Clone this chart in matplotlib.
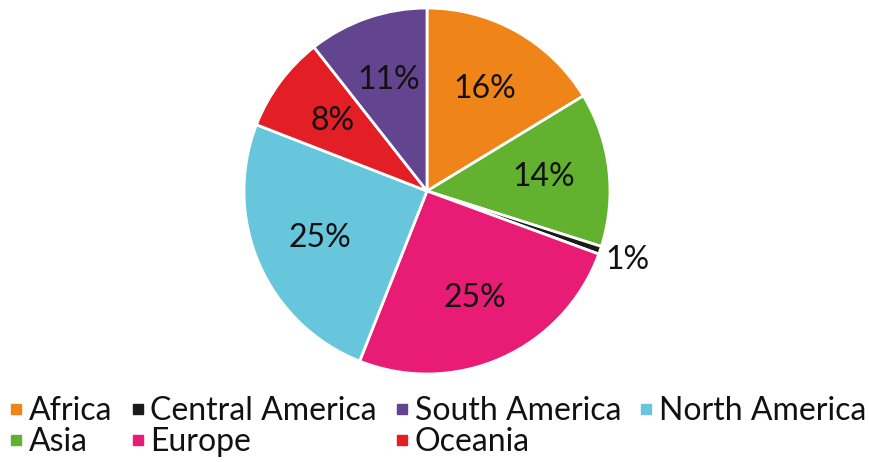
import matplotlib.pyplot as plt
from matplotlib.lines import Line2D

plt.rcParams['font.family'] = ['Lato', 'DejaVu Sans']

# share of total, clockwise from 12 o'clock
regions = ["Africa", "Asia", "Central America", "Europe", "North America", "Oceania", "South America"]
shares = [16.3, 13.6, 0.7, 25.4, 24.9, 8.5, 10.6]
colors = ["#EF8518", "#62B22F", "#1A1A1A", "#E81C75", "#67C6DC", "#E31E24", "#63448F"]

legend_order = ["Africa", "Asia", "Central America", "Europe", "South America", "Oceania", "North America"]

fig = plt.figure(figsize=(8.7, 4.62), dpi=100)
W, H = 870, 462
cx, cy, r = 427, 191, 183
ax = fig.add_axes([(cx - r) / W, (H - cy - r) / H, 2 * r / W, 2 * r / H])

wedges, texts, autotexts = ax.pie(
    shares, colors=colors, startangle=90, counterclock=False,
    autopct="%1.0f%%", pctdistance=0.64,
    wedgeprops=dict(edgecolor="white", linewidth=2),
    textprops=dict(fontsize=23, color="#111111"),
)
# the thin slice gets its label outside
small = regions.index("Central America")
x, y = autotexts[small].get_position()
autotexts[small].set_position((x / 0.64 * 1.16, y / 0.64 * 1.16))

ax.set_xlim(-1, 1)
ax.set_ylim(-1, 1)
ax.set_aspect("equal")

handles = [Line2D([], [], marker="s", linestyle="none", markersize=7.5,
                  color=colors[regions.index(n)]) for n in legend_order]
fig.legend(handles, legend_order, ncol=4, loc="lower left",
           bbox_to_anchor=(0.0005, -0.011), frameon=False, fontsize=23,
           handlelength=0.4, handletextpad=0.2, columnspacing=0.58,
           labelspacing=0.05, borderpad=0.2, borderaxespad=0.1,
           labelcolor="#111111")

plt.savefig("out.png", dpi=100, facecolor="white")
